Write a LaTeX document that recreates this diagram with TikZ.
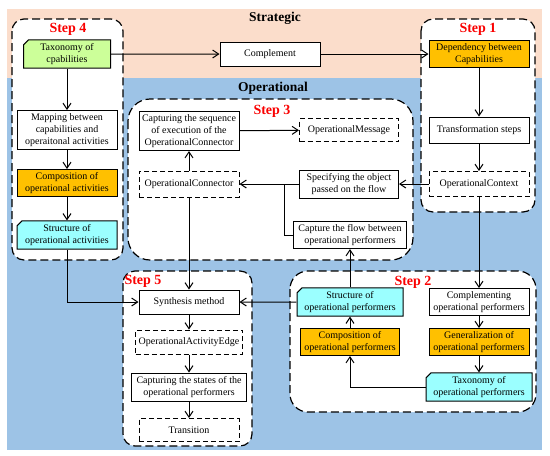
\documentclass[tikz,border=0pt]{standalone}
\usepackage{fontspec}
\setmainfont{Liberation Serif}
\usetikzlibrary{arrows.meta,shapes.misc}
\definecolor{bandPeach}{RGB}{251,221,203}
\definecolor{bandBlue}{RGB}{157,195,230}
\definecolor{boxOrange}{RGB}{255,192,0}
\definecolor{boxGreen}{RGB}{204,255,153}
\definecolor{boxCyan}{RGB}{155,255,255}
\definecolor{stepRed}{RGB}{250,0,0}
\tikzset{
  box/.style={draw,line width=1pt,fill=white,minimum width=100pt,minimum height=26pt,
              inner sep=1pt,align=center,font=\fontsize{10}{12}\selectfont},
  ghost/.style={box,dash pattern=on 5pt off 3pt},
  cutbox/.style={box,chamfered rectangle,chamfered rectangle corners=north west,
                 chamfered rectangle xsep=2.5pt,chamfered rectangle ysep=2.5pt},
  stepframe/.style={draw,line width=1.2pt,fill=white,dash pattern=on 8pt off 4pt,rounded corners=#1},
  steptag/.style={font=\bfseries\fontsize{14}{14}\selectfont,text=stepRed,inner sep=0pt},
  layertag/.style={font=\bfseries\fontsize{13.5}{13.5}\selectfont,inner sep=0pt},
  flow/.style={-{Straight Barb[length=6pt,width=8pt]},line width=1pt},
}
\begin{document}
\begin{tikzpicture}[x=1pt,y=-1pt]
\useasboundingbox (0,0) rectangle (550,456);
\fill[white] (0,0) rectangle (550,456);
% layers
\fill[bandPeach] (7,9) rectangle (542,78);
\fill[bandBlue] (7,78) rectangle (542,450);
\node[layertag] (strat) at (275,18) {Strategic};
\node[layertag] (oper) at (273,88) {Operational};
% step frames
\draw[stepframe=12pt] (12,19) rectangle (123,260);
\draw[stepframe=12pt] (421,19) rectangle (535,212);
\draw[stepframe=22pt] (128,99) rectangle (413,260);
\draw[stepframe=12pt] (123,271) rectangle (252,446);
\draw[stepframe=18pt] (290,271) rectangle (536,412);
\node[steptag] (s4) at (68,29) {Step 4};
\node[steptag] (s1) at (478,29) {Step 1};
\node[steptag] (s3) at (272,111) {Step 3};
\node[steptag] (s5) at (143,281) {Step 5};
\node[steptag] (s2) at (413,282) {Step 2};
% step 4
\node[cutbox,fill=boxGreen,minimum width=87pt,minimum height=27pt] (tcap) at (67,54) {Taxonomy of\\cpabilities};
\node[box,minimum height=39pt] (mapcap) at (67,130) {Mapping between\\capabilities and\\operaitonal activities};
\node[box,fill=boxOrange,minimum height=27pt] (compact) at (67,183) {Composition of\\operational activities};
\node[cutbox,fill=boxCyan,minimum height=27pt] (stract) at (67,235) {Structure of\\operational activities};
% strategic
\node[box,minimum height=24pt] (compl) at (270,54) {Complement};
% step 1
\node[box,fill=boxOrange,minimum height=27pt] (depcap) at (479,54) {Dependency between\\Capabilities};
\node[box] (trans) at (479,130) {Transformation steps};
\node[ghost,minimum height=25pt] (opctx) at (479,184) {OperationalContext};
% step 3
\node[box,minimum height=39pt] (capseq) at (189,131) {Capturing the sequence\\of execution of the\\OperationalConnector};
\node[ghost,minimum width=99pt,minimum height=23pt] (opmsg) at (349,130) {OperationalMessage};
\node[ghost] (opconn) at (189,184) {OperationalConnector};
\node[box,minimum width=99pt,minimum height=28pt] (specobj) at (349,184) {Specifying the object\\passed on the flow};
\node[box,minimum width=113pt,minimum height=27pt] (capflow) at (350,235) {Capture the flow between\\operational performers};
\coordinate (jn) at (284,184);
% step 5
\node[box,minimum height=24pt] (synth) at (189,302) {Synthesis method};
\node[ghost,minimum width=107pt,minimum height=24pt] (opedge) at (189,342) {OperationalActivityEdge};
\node[box,minimum width=115pt,minimum height=28pt] (capstate) at (189,387) {Capturing the states of the\\operational performers};
\node[ghost,minimum height=23pt] (trsn) at (189,430) {Transition};
% step 2
\node[cutbox,fill=boxCyan,minimum width=106pt,minimum height=27pt] (strperf) at (350,302) {Structure of\\operational performers};
\node[box,fill=boxOrange,minimum width=99pt,minimum height=27pt] (compperf) at (350,342) {Composition of\\operational performers};
\node[box,minimum height=27pt] (complperf) at (479,302) {Complementing\\operational performers};
\node[box,fill=boxOrange,minimum height=27pt] (genperf) at (479,342) {Generalization of\\operational performers};
\node[cutbox,fill=boxCyan,minimum width=106pt,minimum height=28pt] (taxperf) at (479,387) {Taxonomy of\\operational performers};
% connectors
\draw[flow] (tcap) -- (compl);
\draw[flow] (compl) -- (depcap);
\draw[flow] (tcap) -- (mapcap);
\draw[flow] (mapcap) -- (compact);
\draw[flow] (compact) -- (stract);
\draw[flow] (stract.south) |- (synth.west);
\draw[flow] (depcap) -- (trans);
\draw[flow] (trans) -- (opctx);
\draw[flow] (opctx) -- (specobj);
\draw[flow] (opctx) -- (complperf);
\draw[flow] (specobj) -- (opconn);
\draw[line width=1pt] (capflow.west) -| (jn);
\draw[flow] (opconn) -- (capseq);
\draw[flow] (capseq) -- (opmsg);
\draw[flow] (opconn) -- (synth);
\draw[flow] (synth) -- (opedge);
\draw[flow] (opedge) -- (capstate);
\draw[flow] (capstate) -- (trsn);
\draw[flow] (strperf) -- (synth);
\draw[flow] (strperf) -- (capflow);
\draw[flow] (compperf) -- (strperf);
\draw[flow] (taxperf.west) -| (compperf.south);
\draw[flow] (complperf) -- (genperf);
\draw[flow] (genperf) -- (taxperf);
\end{tikzpicture}
\end{document}
